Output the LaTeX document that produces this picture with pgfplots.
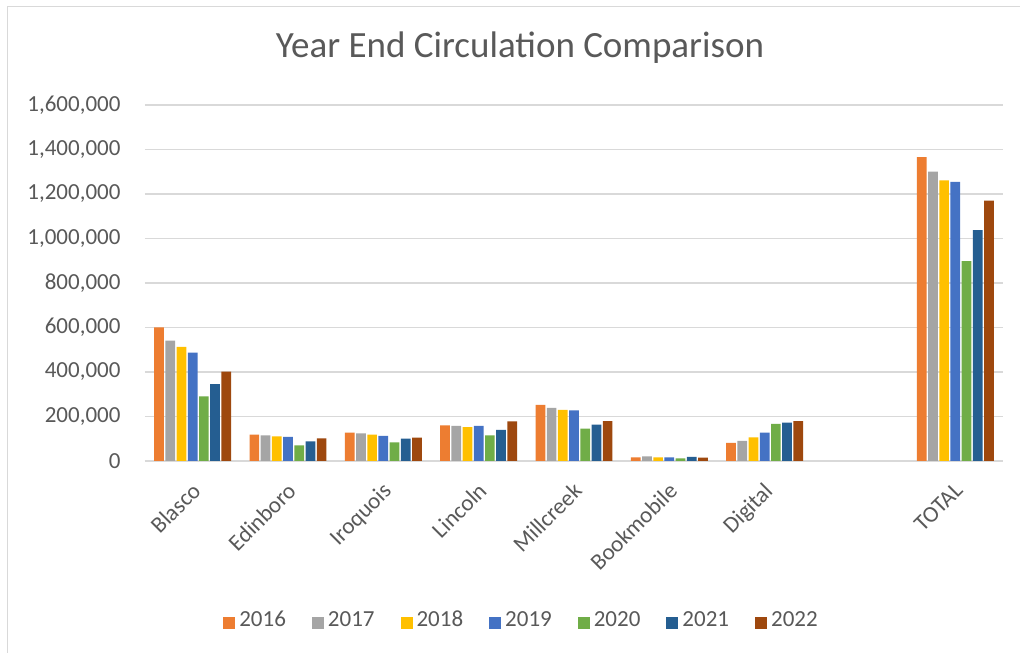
\documentclass[border=0pt]{standalone}
\usepackage{pgfplots}
\pgfplotsset{compat=1.18}
\usepackage{fontspec}
\setmainfont{Carlito}
\definecolor{txt}{HTML}{595959}
\definecolor{gridc}{HTML}{D9D9D9}
\definecolor{c16}{HTML}{ED7D31}
\definecolor{c17}{HTML}{A5A5A5}
\definecolor{c18}{HTML}{FFC000}
\definecolor{c19}{HTML}{4472C4}
\definecolor{c20}{HTML}{70AD47}
\definecolor{c21}{HTML}{255E91}
\definecolor{c22}{HTML}{9E480E}
\begin{document}
\begin{tikzpicture}
\useasboundingbox (0,0) rectangle (1020pt,653pt);
\fill[white] (0,0) rectangle (1020pt,653pt);
\draw[gridc, line width=1.5pt] (7.5pt,0) -- (7.5pt,646.5pt) -- (1020pt,646.5pt);
\node[text=txt, font=\fontsize{37}{42}\selectfont] at (520pt,605pt) {Year End Circulation Comparison};
\begin{axis}[
    at={(145pt,192pt)}, anchor=south west,
    scale only axis,
    width=858pt, height=356pt,
    ybar=1.5pt,
    bar width=9.7pt,
    xmin=-0.5, xmax=8.5,
    ymin=0, ymax=1600000,
    ytick distance=200000,
    scaled y ticks=false,
    xtick={0,1,2,3,4,5,6,8},
    xticklabels={Blasco,Edinboro,Iroquois,Lincoln,Millcreek,Bookmobile,Digital,TOTAL},
    xticklabel style={yshift=-20pt, xshift=-2pt, rotate=45, anchor=north east, font=\fontsize{23}{27}\selectfont, text=txt, inner sep=0pt},
    yticklabel style={font=\fontsize{23}{27}\selectfont, text=txt, xshift=-21pt},
    /pgf/number format/.cd, fixed, 1000 sep={,}, assume math mode=true,
    /pgfplots/.cd,
    major tick length=0pt,
    ymajorgrids=true,
    grid style={gridc, line width=1.5pt},
    axis x line*=bottom,
    axis y line*=left,
    y axis line style={draw=none},
    x axis line style={draw=gridc, line width=1.5pt},
    legend columns=7,
    legend style={at={(0.44,-0.455)}, anchor=center, draw=none, fill=none,
        font=\fontsize{23}{27}\selectfont, text=txt,
        nodes={inner xsep=4pt, text height=1.5ex, text depth=0pt},
        /tikz/every even column/.append style={column sep=22pt}},
    legend image code/.code={\fill[#1] (0pt,-6pt) rectangle (12pt,6pt);},
]
\addplot[fill=c16, draw=none] coordinates {(0,600000)(1,118500)(2,128000)(3,160000)(4,252000)(5,16000)(6,82000)(8,1366000)};
\addplot[fill=c17, draw=none] coordinates {(0,541500)(1,115500)(2,124000)(3,158000)(4,239000)(5,21000)(6,91000)(8,1300000)};
\addplot[fill=c18, draw=none] coordinates {(0,513000)(1,111000)(2,119000)(3,152000)(4,230000)(5,16000)(6,106000)(8,1261000)};
\addplot[fill=c19, draw=none] coordinates {(0,487500)(1,108000)(2,113000)(3,158000)(4,227000)(5,16000)(6,128000)(8,1254000)};
\addplot[fill=c20, draw=none] coordinates {(0,291000)(1,70500)(2,84000)(3,115000)(4,146000)(5,12000)(6,167000)(8,898000)};
\addplot[fill=c21, draw=none] coordinates {(0,345000)(1,88500)(2,100000)(3,140000)(4,164000)(5,18000)(6,172000)(8,1038000)};
\addplot[fill=c22, draw=none] coordinates {(0,402000)(1,102000)(2,104500)(3,178000)(4,179000)(5,15000)(6,179000)(8,1170000)};
\legend{2016,2017,2018,2019,2020,2021,2022}
\end{axis}
\end{tikzpicture}
\end{document}
